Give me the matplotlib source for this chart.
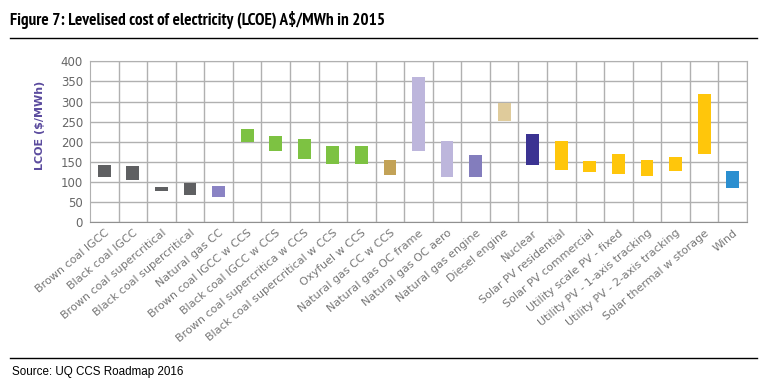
import matplotlib.pyplot as plt
from matplotlib.lines import Line2D

# LCOE ranges (A$/MWh)
techs = ['Brown coal IGCC', 'Black coal IGCC', 'Brown coal supercritical',
         'Black coal supercritical', 'Natural gas CC', 'Brown coal IGCC w CCS',
         'Black coal IGCC w CCS', 'Brown coal supercritica w CCS',
         'Black coal supercritical w CCS', 'Oxyfuel w CCS', 'Natural gas CC w CCS',
         'Natural gas OC frame', 'Natural gas OC aero', 'Natural gas engine',
         'Diesel engine', 'Nuclear', 'Solar PV residential', 'Solar PV commercial',
         'Utility scale PV - fixed', 'Utility PV - 1-axis tracking',
         'Utility PV - 2-axis tracking', 'Solar thermal w storage', 'Wind']
low = [112, 105, 77, 68, 63, 200, 177, 158, 145, 145, 118,
       177, 112, 112, 252, 142, 131, 124, 119, 114, 128, 169, 85]
high = [142, 139, 87, 97, 89, 233, 215, 206, 190, 190, 156,
        362, 202, 168, 297, 219, 202, 152, 169, 156, 161, 319, 127]
colors = ['#5f6062'] * 4 + ['#8a83c4'] + ['#7dc242'] * 5 + ['#c2a257'] + \
         ['#bdb6dc', '#bdb6dc', '#837dbd', '#dfcb9b', '#3b3392'] + \
         ['#ffc60b'] * 6 + ['#2b8fd0']

chart_font = ['DejaVu Sans']
narrow_font = ['PT Sans Narrow', 'Roboto Condensed', 'Barlow Condensed', 'Liberation Sans']

fig = plt.figure(figsize=(7.62, 3.85), dpi=100)
ax = fig.add_axes([90 / 762, 1 - 222.3 / 385, 657 / 762, 161 / 385])

x = list(range(len(techs)))
heights = [h - l for h, l in zip(high, low)]
ax.bar(x, heights, bottom=low, width=0.45, color=colors, zorder=3)

ax.set_xlim(-0.5, len(techs) - 0.5)
ax.set_ylim(0, 400)
ax.set_yticks(range(0, 401, 50))
ax.set_xticks([i + 0.5 for i in x], minor=True)
ax.set_xticks(x)
ax.grid(True, which='major', axis='y', color='#b0b0b0', lw=1, zorder=0)
ax.grid(True, which='minor', axis='x', color='#b0b0b0', lw=1, zorder=0)
for s in ax.spines.values():
    s.set_color('#b0b0b0')
ax.spines['bottom'].set_color('#909090')
ax.tick_params(which='both', length=0)
ax.tick_params(axis='y', pad=5)
for t in ax.get_yticklabels():
    t.set_family(chart_font)
    t.set_fontsize(8.5)
    t.set_color('#666666')
ax.set_xticklabels(techs, rotation=40, ha='right', rotation_mode='anchor',
                   fontsize=8, color='#777777', family=chart_font)
ax.tick_params(axis='x', pad=4)
ax.set_ylabel('LCOE ($/MWh)', color='#5b4b9e', fontsize=8, fontweight='bold',
              family=chart_font)
ax.yaxis.set_label_coords(-0.068, 0.60)

fig.text(10 / 762, 1 - 20 / 385, 'Figure 7: Levelised cost of electricity (LCOE) A$/MWh in 2015',
         fontsize=12.3, fontweight='bold', family=narrow_font, va='center', ha='left')
fig.add_artist(Line2D([10 / 762, 757 / 762], [1 - 37.5 / 385] * 2, color='black', lw=1))
fig.add_artist(Line2D([10 / 762, 757 / 762], [1 - 357.5 / 385] * 2, color='black', lw=1))
fig.text(12 / 762, 1 - 372 / 385, 'Source: UQ CCS Roadmap 2016', fontsize=8.4,
         family=['Liberation Sans'], va='center', ha='left')

plt.savefig('out.png', dpi=100)
